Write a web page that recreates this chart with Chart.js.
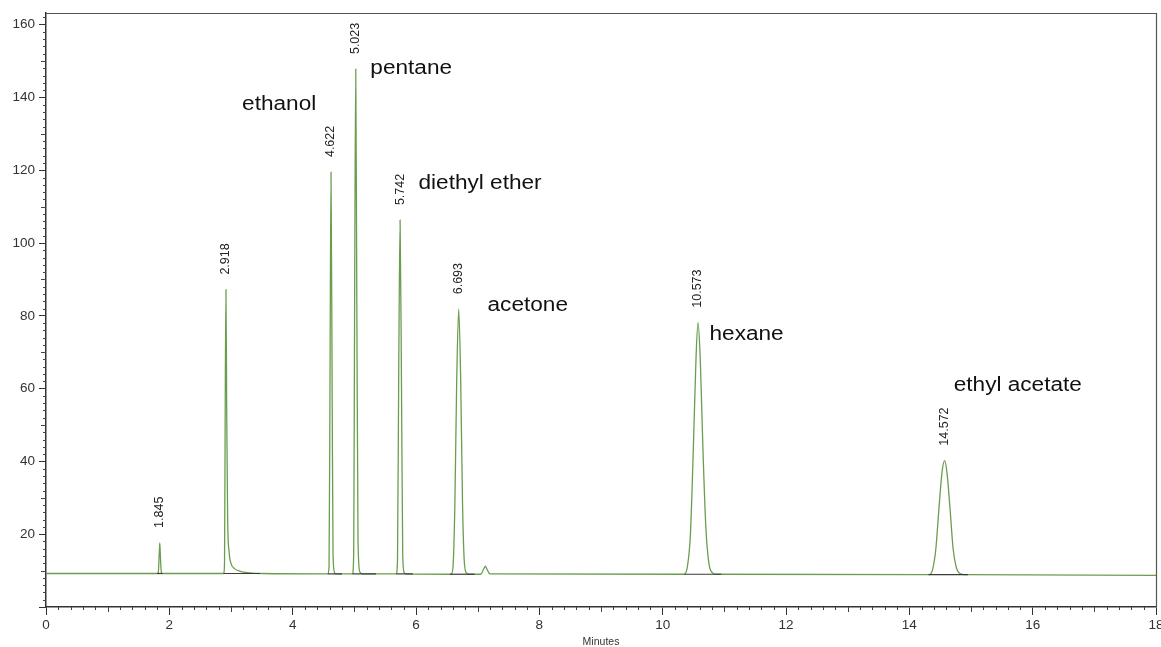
<!DOCTYPE html>
<html>
<head>
<meta charset="utf-8">
<script src="https://cdn.jsdelivr.net/npm/chart.js@4/dist/chart.umd.min.js"></script>
<style>
  html, body { margin: 0; padding: 0; background: #ffffff; }
  #wrap { width: 1161px; height: 647px; position: relative; }
</style>
</head>
<body>
<div id="wrap"><canvas id="c" width="1161" height="647"></canvas></div>
<script>
// ---- Data ----
const traceMinutes = [
  0, 1.80, 1.82, 1.835, 1.845, 1.855, 1.87, 1.89,
  2.88, 2.895, 2.905, 2.918, 2.93, 2.945, 2.97, 3.0, 3.05, 3.15, 3.3, 3.5,
  4.57, 4.59, 4.605, 4.622, 4.64, 4.655, 4.68, 4.7,
  4.97, 4.99, 5.005, 5.023, 5.04, 5.06, 5.09, 5.13,
  5.68, 5.70, 5.72, 5.742, 5.765, 5.785, 5.81, 5.84,
  6.57, 6.60, 6.63, 6.66, 6.693, 6.725, 6.755, 6.785, 6.82, 6.86,
  7.05, 7.10, 7.125, 7.15, 7.20,
  10.35, 10.40, 10.45, 10.50, 10.54, 10.573, 10.61, 10.65, 10.70, 10.75, 10.80, 10.87,
  14.32, 14.38, 14.43, 14.48, 14.53, 14.572, 14.61, 14.66, 14.71, 14.76, 14.82, 14.90,
  18
];
const traceSignal = [
  9.2, 9.2, 9.4, 14, 17.6, 14, 9.6, 9.2,
  9.2, 12, 50, 87.2, 55, 25, 15, 12, 10.6, 9.8, 9.4, 9.2,
  9.1, 11, 60, 119.5, 60, 14, 9.4, 9.1,
  9.1, 15, 85, 147.8, 85, 18, 9.6, 9.1,
  9.1, 13, 65, 106.3, 60, 14, 9.4, 9.1,
  9.0, 11, 28, 62, 81.8, 62, 28, 12, 9.3, 9.0,
  9.0, 10.5, 11.2, 10.4, 9.1,
  9.0, 11, 20, 45, 68, 78.1, 68, 45, 22, 12, 9.5, 9.0,
  8.9, 10.5, 16, 27, 37, 40.2, 37, 27, 16, 11, 9.2, 8.9,
  8.7
];
const peakTimes   = [1.845, 2.918, 4.622, 5.023, 5.742, 6.693, 10.573, 14.572];
const peakHeights = [17.6, 87.2, 119.5, 147.8, 106.3, 81.8, 78.1, 40.2];
const peakLabels  = ['1.845', '2.918', '4.622', '5.023', '5.742', '6.693', '10.573', '14.572'];
const baselineStart = [1.80, 2.88, 4.57, 4.97, 5.68, 6.55, 10.35, 14.31];
const baselineEnd   = [1.89, 3.47, 4.80, 5.35, 5.95, 6.95, 10.95, 14.95];
const baselineLevel = [9.2, 9.2, 9.1, 9.1, 9.1, 9.0, 9.0, 8.9];
const compoundNames = ['ethanol', 'pentane', 'diethyl ether', 'acetone', 'hexane', 'ethyl acetate'];
const xTickLabels = [0, 2, 4, 6, 8, 10, 12, 14, 16, 18];
const yTickLabels = [20, 40, 60, 80, 100, 120, 140, 160];

// ---- Build datasets ----
const tracePoints = traceMinutes.map((m, i) => ({ x: m, y: traceSignal[i] }));
const datasets = [{
  label: 'signal',
  data: tracePoints,
  borderColor: '#6a9e4e',
  borderWidth: 1.3,
  pointRadius: 0,
  cubicInterpolationMode: 'monotone',
  order: 2
}];
baselineStart.forEach((s, i) => {
  datasets.push({
    label: 'baseline ' + peakLabels[i],
    data: [{ x: s, y: baselineLevel[i] }, { x: baselineEnd[i], y: baselineLevel[i] }],
    borderColor: '#3a3a3a',
    borderWidth: 1.2,
    pointRadius: 0,
    order: 1
  });
});

// label anchors (data units) for compound names
const nameAnchors = {
  'ethanol':       { x: 3.18, y: 138.0 },
  'pentane':       { x: 5.26, y: 147.9 },
  'diethyl ether': { x: 6.04, y: 116.3 },
  'acetone':       { x: 7.16, y: 82.8 },
  'hexane':        { x: 10.76, y: 74.8 },
  'ethyl acetate': { x: 14.72, y: 60.8 }
};

const decor = {
  id: 'decor',
  beforeDraw(chart) {
    const { ctx } = chart;
    ctx.save();
    ctx.fillStyle = '#ffffff';
    ctx.fillRect(0, 0, chart.width, chart.height);
    ctx.restore();
  },
  afterDraw(chart) {
    const { ctx, chartArea: a } = chart;
    const xs = chart.scales.x, ys = chart.scales.y;
    ctx.save();
    // frame top/right
    ctx.strokeStyle = '#555';
    ctx.lineWidth = 1.2;
    ctx.beginPath();
    ctx.moveTo(a.left, a.top + 0.5);
    ctx.lineTo(a.right + 0.5, a.top + 0.5);
    ctx.lineTo(a.right + 0.5, a.bottom);
    ctx.stroke();
    // minor ticks
    ctx.strokeStyle = '#444';
    ctx.lineWidth = 1;
    ctx.beginPath();
    for (let i = 0; i <= 90; i++) {
      if (i % 10 === 0) continue;
      const px = Math.round(xs.getPixelForValue(i * 0.2)) + 0.5;
      const len = (i % 5 === 0) ? 5 : 3;
      ctx.moveTo(px, a.bottom);
      ctx.lineTo(px, a.bottom + len);
    }
    for (let i = 0; i <= 81; i++) {
      if (i % 10 === 0) continue;
      const py = Math.round(ys.getPixelForValue(i * 2)) + 0.5;
      const len = (i % 5 === 0) ? 5 : 3;
      ctx.moveTo(a.left, py);
      ctx.lineTo(a.left - len, py);
    }
    ctx.stroke();
    // peak retention-time labels (rotated)
    ctx.fillStyle = '#222';
    ctx.font = '12.5px "Liberation Sans", Arial, sans-serif';
    ctx.textAlign = 'left';
    ctx.textBaseline = 'middle';
    peakTimes.forEach((t, i) => {
      const px = xs.getPixelForValue(t);
      const py = ys.getPixelForValue(peakHeights[i]) - 15;
      ctx.save();
      ctx.translate(px, py);
      ctx.rotate(-Math.PI / 2);
      ctx.fillText(peakLabels[i], 0, 0);
      ctx.restore();
    });
    // compound names
    ctx.fillStyle = '#111';
    ctx.font = '20px "Liberation Sans", Arial, sans-serif';
    compoundNames.forEach(n => {
      const an = nameAnchors[n];
      const px = xs.getPixelForValue(an.x);
      const py = ys.getPixelForValue(an.y);
      ctx.save();
      ctx.translate(px, py);
      ctx.scale(1.13, 1);
      ctx.fillText(n, 0, 0);
      ctx.restore();
    });
    ctx.restore();
  }
};

new Chart(document.getElementById('c'), {
  type: 'line',
  data: { datasets },
  options: {
    responsive: false,
    animation: false,
    devicePixelRatio: 1,
    layout: { padding: { top: 13, right: 5, left: 0, bottom: 0 } },
    plugins: { legend: { display: false }, tooltip: { enabled: false } },
    scales: {
      x: {
        type: 'linear',
        min: 0, max: 18,
        afterBuildTicks(scale) { scale.ticks = xTickLabels.map(v => ({ value: v })); },
        afterFit(scale) { scale.height = 40; scale.paddingLeft = 0; scale.paddingRight = 0; },
        ticks: {
          autoSkip: false, maxRotation: 0, padding: 2,
          color: '#333',
          font: { family: '"Liberation Sans", Arial, sans-serif', size: 13.5 },
          callback: v => String(v)
        },
        grid: { drawOnChartArea: false, tickLength: 8, color: '#333', tickColor: '#333' },
        border: { display: true, color: '#333', width: 1.5 },
        title: {
          display: true, text: 'Minutes', color: '#333',
          font: { family: '"Liberation Sans", Arial, sans-serif', size: 10.5, lineHeight: 1.0 },
          padding: { top: 0, bottom: 0 }
        }
      },
      y: {
        type: 'linear',
        min: 0, max: 163.2,
        afterBuildTicks(scale) { scale.ticks = [0].concat(yTickLabels).map(v => ({ value: v })); },
        afterFit(scale) { scale.width = 46; scale.paddingTop = 0; scale.paddingBottom = 0; },
        ticks: {
          autoSkip: false, padding: 4,
          color: '#333',
          font: { family: '"Liberation Sans", Arial, sans-serif', size: 13.5 },
          callback: v => (v === 0 ? '' : String(v))
        },
        grid: { drawOnChartArea: false, tickLength: 7, color: '#333', tickColor: '#333' },
        border: { display: true, color: '#333', width: 1.5 }
      }
    }
  },
  plugins: [decor]
});
</script>
</body>
</html>
